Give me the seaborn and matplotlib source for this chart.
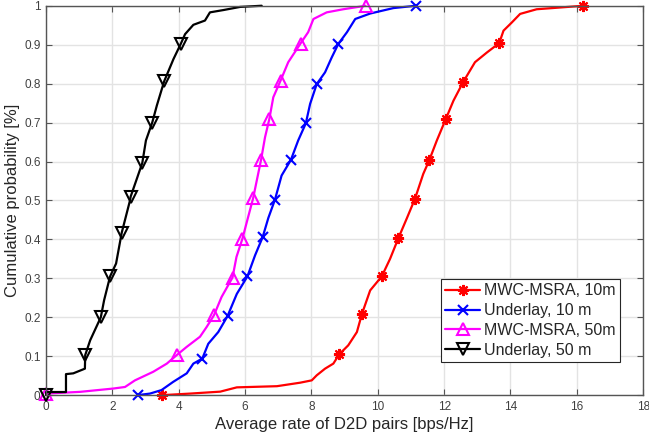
import matplotlib
matplotlib.use("Agg")
import matplotlib.pyplot as plt
import seaborn as sns

# values (x = rate, y = cumulative probability)
red_x = [3.5, 4.34, 5.25, 5.75, 6.96, 7.66, 8.01, 8.16, 8.41, 8.66, 8.84, 9.11, 9.37, 9.52,
         9.77, 10.12, 10.37, 10.62, 10.87, 11.12, 11.37, 11.55, 11.78, 12.05, 12.28, 12.58,
         12.93, 13.29, 13.66, 13.79, 14.04, 14.29, 14.79, 16.2]
red_y = [0, 0.004, 0.009, 0.02, 0.023, 0.032, 0.038, 0.051, 0.068, 0.081, 0.105, 0.128, 0.162, 0.208,
         0.269, 0.305, 0.35, 0.403, 0.453, 0.504, 0.568, 0.603, 0.654, 0.709, 0.756, 0.805,
         0.855, 0.88, 0.904, 0.936, 0.957, 0.979, 0.991, 1.0]
red_marks = [0, 10, 13, 15, 17, 19, 21, 23, 25, 28, 33]

blue_x = [2.76, 3.13, 3.48, 3.83, 4.24, 4.44, 4.71, 4.89, 5.19, 5.47, 5.75, 6.07, 6.3, 6.53,
          6.7, 6.9, 7.1, 7.38, 7.6, 7.83, 7.96, 8.16, 8.41, 8.61, 8.81, 9.07, 9.32, 9.77, 10.47, 11.15]
blue_y = [0, 0.004, 0.013, 0.034, 0.056, 0.081, 0.094, 0.132, 0.162, 0.203, 0.26, 0.305, 0.359, 0.406,
          0.455, 0.502, 0.564, 0.604, 0.654, 0.698, 0.748, 0.799, 0.829, 0.867, 0.902, 0.932, 0.966,
          0.98, 0.994, 1.0]
blue_marks = [0, 6, 9, 11, 13, 15, 17, 19, 21, 24, 29]

mag_x = [0, 0, 1.03, 2.03, 2.38, 2.68, 3.23, 3.64, 3.94, 4.24, 4.64, 4.84, 5.06, 5.29, 5.62,
         5.74, 5.92, 6.09, 6.24, 6.48, 6.6, 6.73, 6.85, 7.07, 7.3, 7.67, 7.9, 8.06, 8.46, 8.96, 9.63]
mag_y = [0, 0.004, 0.0085, 0.017, 0.021, 0.038, 0.06, 0.081, 0.103, 0.124, 0.15, 0.175, 0.205,
         0.252, 0.302, 0.355, 0.402, 0.457, 0.505, 0.604, 0.662, 0.709, 0.765, 0.808, 0.855,
         0.903, 0.932, 0.966, 0.983, 0.991, 1.0]
mag_marks = [1, 8, 12, 14, 16, 18, 19, 21, 23, 25, 30]

blk_x = [0, 0, 0.6, 0.6, 0.82, 1.17, 1.18, 1.33, 1.65, 1.75, 1.93, 2.11, 2.28, 2.53, 2.55, 2.9,
         3.01, 3.2, 3.34, 3.56, 3.84, 4.06, 4.19, 4.44, 4.79, 4.94, 5.35, 5.85, 6.5]
blk_y = [0, 0.008, 0.008, 0.054, 0.056, 0.068, 0.103, 0.141, 0.2, 0.244, 0.305, 0.338, 0.417,
         0.5, 0.51, 0.596, 0.654, 0.7, 0.744, 0.806, 0.863, 0.902, 0.927, 0.951, 0.962, 0.983,
         0.989, 0.997, 1.0]
blk_marks = [0, 6, 8, 10, 12, 14, 15, 17, 19, 21]

labels = ["MWC-MSRA, 10m", "Underlay, 10 m", "MWC-MSRA, 50m", "Underlay, 50 m"]

sns.set_style("whitegrid")
plt.rcParams['font.family'] = ['Liberation Sans', 'DejaVu Sans']

fig = plt.figure(figsize=(6.49, 4.42), dpi=100)
ax = fig.add_axes([0.071, 0.106, 0.92, 0.881])

series = [
    (red_x, red_y, red_marks, "red", (8, 2, 0), 8),
    (blue_x, blue_y, blue_marks, "blue", "x", 7),
    (mag_x, mag_y, mag_marks, "magenta", "^", 9),
    (blk_x, blk_y, blk_marks, "black", "v", 9),
]
for (xs, ys, marks, col, mk, ms), lab in zip(series, labels):
    sns.lineplot(x=xs, y=ys, sort=False, estimator=None, ax=ax, color=col, lw=1.6,
                 marker=mk, markevery=marks, markersize=ms, markerfacecolor="none",
                 markeredgecolor=col, markeredgewidth=1.5, label=lab, clip_on=False)

ax.set_xlim(0, 18)
ax.set_ylim(0, 1)
ax.set_xticks(range(0, 19, 2))
ax.set_yticks([i / 10 for i in range(11)])
ax.set_yticklabels(["0", "0.1", "0.2", "0.3", "0.4", "0.5", "0.6", "0.7", "0.8", "0.9", "1"])
ax.grid(True, color="#e3e3e3", lw=1.0)
for s in ax.spines.values():
    s.set_color("#555555")
    s.set_linewidth(1.0)
ax.tick_params(direction="in", length=4, width=0.8, colors="#555555", labelcolor="#404040",
               labelsize=8.5, top=True, right=True, bottom=True, left=True, pad=4)
ax.set_xlabel("Average rate of D2D pairs [bps/Hz]", fontsize=12, color="#262626", labelpad=3)
ax.set_ylabel("Cumulative probability [%]", fontsize=12, color="#262626", labelpad=3)

leg = ax.legend(loc="upper left", bbox_to_anchor=(0.662, 0.297), fontsize=11.5, fancybox=False,
                framealpha=1, edgecolor="#262626", handlelength=2.2, borderpad=0.25,
                labelspacing=0.3, handletextpad=0.25, borderaxespad=0)
leg.get_frame().set_linewidth(0.8)

fig.savefig("out.png", dpi=100)
